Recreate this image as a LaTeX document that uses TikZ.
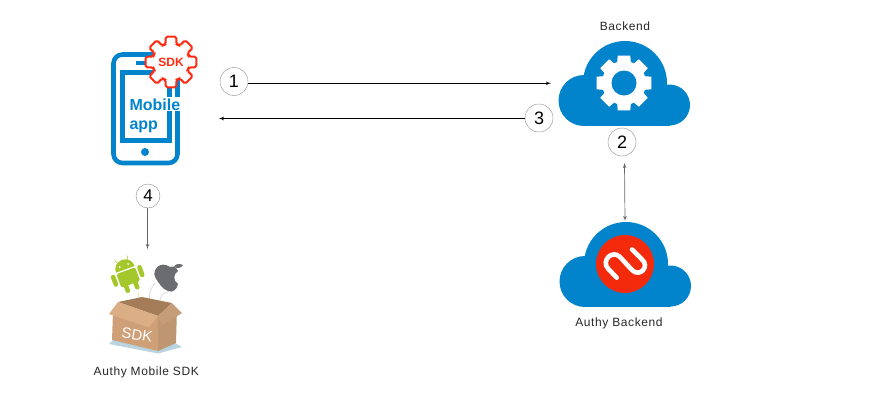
\documentclass[tikz,border=0pt]{standalone}
\usepackage{fontspec}
\setmainfont{Liberation Sans}
\newfontfamily\captionfont[LetterSpace=5]{Liberation Sans}
\usetikzlibrary{shapes,arrows}
\definecolor{cloudblue}{HTML}{0284CC}
\definecolor{authyred}{HTML}{F32B0C}
\definecolor{gearred}{HTML}{FF2A12}
\definecolor{droidgreen}{HTML}{A4C72B}
\definecolor{applegray}{HTML}{6B6C70}
\definecolor{boxfront}{HTML}{CFA078}
\definecolor{boxflap}{HTML}{DBAE85}
\definecolor{boxright}{HTML}{BE9672}
\definecolor{boxinner}{HTML}{A47C58}
\definecolor{boxshadow}{HTML}{B8D4E0}
\tikzstyle{badge} = [circle, draw=black!45, fill=white, minimum size=28pt, inner sep=0pt,
    font=\fontsize{18}{18}\selectfont]
\tikzstyle{smallbadge} = [badge, minimum size=24pt, font=\fontsize{17}{17}\selectfont]
\tikzstyle{link} = [draw, black, line width=0.7pt, -latex']
\tikzstyle{graylink} = [draw, black!60, line width=0.7pt, -latex']
\tikzstyle{caption} = [font=\captionfont\fontsize{12}{12}\selectfont, text=black!85]
\tikzstyle{limb} = [draw=droidgreen, line width=4.6pt, line cap=round]
\newcommand{\cloudicon}[2]{%
  \begin{scope}[shift={(#1,#2)}]
    % three lobes and a filler
    \fill[cloudblue] (584,100.5) circle (25.5pt);
    \fill[cloudblue] (625,83) circle (42pt);
    \fill[cloudblue] (669.5,105) circle (20.5pt);
    \fill[cloudblue] (584,100) rectangle (669.5,126);
  \end{scope}}
\newcommand{\gearicon}[6]{%
  \begin{scope}[shift={(#1)}]
    \path[#6] (-#5:#3) \foreach \a in {0,45,...,315} {
      -- (\a-#5:#3) -- (\a-#4:#2) -- (\a+#4:#2) -- (\a+#5:#3)} -- cycle;
  \end{scope}}
\begin{document}
\begin{tikzpicture}[x=1pt, y=-1pt]
        \useasboundingbox (0,0) rectangle (870,402);

        % Phone
        \draw[cloudblue, line width=4.6pt, rounded corners=9pt] (113.5,54.5) rectangle (177.5,163);
        \draw[cloudblue, line width=5pt] (122,72.5) rectangle (169.5,140.5);
        \draw[cloudblue, line width=4pt] (136,63) -- (152,63);
        \fill[cloudblue] (145,152) circle (4pt);
        \gearicon{171,62}{26}{18.5}{12}{17}{draw=gearred, fill=white, line width=2pt, rounded corners=1.8pt}
        \node[text=gearred, font=\bfseries\fontsize{12}{12}\selectfont] (sdkgear) at (171,62.5) {SDK};
        \node[anchor=base west, fill=white, inner sep=1pt, text=cloudblue,
              font=\bfseries\fontsize{16}{16}\selectfont] (mobile) at (128.3,110) {Mobile};
        \node[anchor=base west, inner sep=1pt, text=cloudblue,
              font=\bfseries\fontsize{16}{16}\selectfont] (appl) at (128.3,129) {app};

        % Backend cloud
        \cloudicon{0}{0}
        \gearicon{624,83}{28}{22}{13}{18}{fill=white}
        \fill[cloudblue] (624,83) circle (12.5pt);
        \node[caption] (backend) at (625,26) {Backend};

        % Authy cloud
        \cloudicon{1}{181}
        \fill[authyred] (625,264) circle (29pt);
        \draw[white, line width=4.6pt, line cap=round] (616.7,277.7) -- (608,268.5)
          .. controls (601,261) and (612,249) .. (620,257) -- (632,270)
          .. controls (640,278) and (650,266) .. (642,259.5) -- (632,249.5);
        \node[caption] (authyback) at (619,323) {Authy Backend};

        % SDK box
        \fill[boxshadow] (109,344) -- (158,353.5) -- (182,347) -- (175,343) -- (113,340) -- cycle;
        \draw[droidgreen!35, line width=0.8pt] (140,305) .. controls (139,298) .. (138,292);
        \draw[black!12, line width=1pt] (150,303) .. controls (149,292) .. (155,283);
        \draw[black!12, line width=1pt] (160,300) .. controls (162,294) .. (168,292);
        \fill[boxinner] (118,302) -- (142,297) -- (172,303) -- (158,316) -- cycle;
        \fill[boxfront] (113,312) -- (158,316) -- (158,351) -- (112,340) -- cycle;
        \fill[boxright] (158,316) -- (177,308) -- (176,343) -- (158,351) -- cycle;
        \fill[boxflap] (118,302) -- (158,316) -- (149,327.5) -- (109,314) -- cycle;
        \fill[boxflap!90!black] (158,316) -- (172,303) -- (182,313) -- (162,325) -- cycle;
        \node[white, rotate=-9, font=\fontsize{15}{15}\selectfont] (boxsdk) at (137,335) {SDK};

        % Android
        \begin{scope}[shift={(127,274)}, rotate=20]
          \fill[droidgreen] (-10,-5) arc[start angle=180, end angle=0, radius=10pt] -- cycle;
          \fill[droidgreen, rounded corners=1.5pt] (-10,-3.5) rectangle (10,11);
          \draw[limb] (-14,-2) -- (-14,6);
          \draw[limb] (14,-2) -- (14,6);
          \draw[limb] (-5,11) -- (-5,16);
          \draw[limb] (5,11) -- (5,16);
          \draw[droidgreen, line width=0.5pt] (-5,-13) -- (-7,-17);
          \draw[droidgreen, line width=0.5pt] (5,-13) -- (7,-17);
          \fill[white] (-4.5,-9) circle (1pt);
          \fill[white] (4.5,-9) circle (1pt);
        \end{scope}

        % Apple
        \fill[applegray] (170,267) .. controls (172,266) and (176,266) .. (178,271)
          .. controls (173,274) and (173,281) .. (178,284)
          .. controls (177,290) and (172,293) .. (168,291)
          .. controls (163,290) and (158,282) .. (155,277)
          .. controls (152,270) and (160,260) .. (170,267) -- cycle;
        \fill[applegray] (174,267) .. controls (175,264) and (179,263) .. (183,265)
          .. controls (181,268) and (178,269) .. (174,267) -- cycle;

        % Place badges
        \node[badge] (one) at (234,81.5) {1};
        \node[badge] (three) at (539,118) {3};
        \node[badge] (two) at (622,142) {2};
        \node[smallbadge] (four) at (148,196) {4};
        \node[caption] (mobilesdk) at (146.3,372) {Authy Mobile SDK};

        % Free ends of the edges
        \coordinate (cloudin) at (551,83.3);
        \coordinate (phonein) at (219,118.5);
        \coordinate (cloudbot) at (624.5,163);
        \coordinate (authytop) at (625,221);
        \coordinate (boxtop) at (147.5,249);

        % Draw edges
        \path [link] (one.east |- cloudin) -- (cloudin);
        \path [link] (three.west |- phonein) -- (phonein);
        \path [graylink, latex'-latex'] (cloudbot) -- (authytop);
        \path [graylink] (four.south -| boxtop) -- (boxtop);
      \end{tikzpicture}
\end{document}
